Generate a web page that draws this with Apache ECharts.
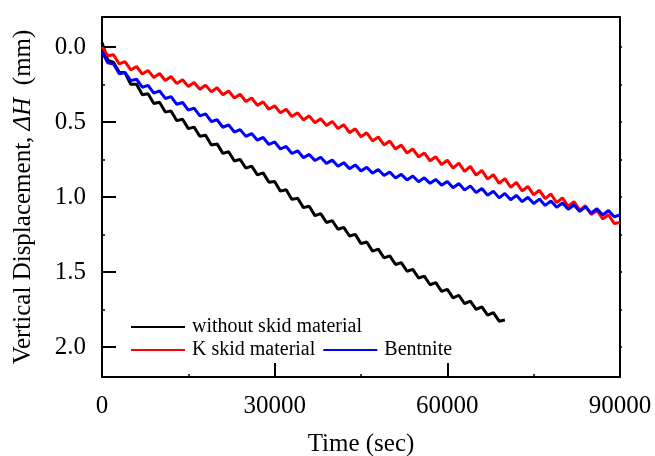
<!DOCTYPE html>
<html>
<head>
<meta charset="utf-8">
<script src="https://cdn.jsdelivr.net/npm/echarts@6/dist/echarts.min.js"></script>
<style>html,body{margin:0;padding:0;background:#fff;}#c{width:655px;height:456px;}</style>
</head>
<body>
<div id="c"></div>
<script>
const timeSec = [0,1000,2000,3000,4000,5000,6000,7000,8000,9000,10000,11000,12000,13000,14000,15000,16000,17000,18000,19000,20000,21000,22000,23000,24000,25000,26000,27000,28000,29000,30000,31000,32000,33000,34000,35000,36000,37000,38000,39000,40000,41000,42000,43000,44000,45000,46000,47000,48000,49000,50000,51000,52000,53000,54000,55000,56000,57000,58000,59000,60000,61000,62000,63000,64000,65000,66000,67000,68000,69000,70000,71000,72000,73000,74000,75000,76000,77000,78000,79000,80000,81000,82000,83000,84000,85000,86000,87000,88000,89000,90000];
const withoutSkid = [-0.03,0.088,0.102,0.168,0.172,0.248,0.248,0.318,0.311,0.376,0.369,0.434,0.426,0.491,0.482,0.544,0.534,0.595,0.588,0.653,0.646,0.709,0.698,0.760,0.749,0.808,0.794,0.852,0.839,0.902,0.897,0.961,0.952,1.016,1.008,1.071,1.062,1.124,1.111,1.170,1.157,1.215,1.202,1.260,1.249,1.311,1.300,1.361,1.348,1.406,1.392,1.450,1.437,1.495,1.482,1.540,1.527,1.585,1.571,1.629,1.616,1.672,1.655,1.711,1.694,1.749,1.732,1.788,1.771,1.828,1.820];
const kSkid = [0.00,0.058,0.052,0.113,0.097,0.153,0.130,0.180,0.156,0.203,0.177,0.223,0.197,0.244,0.218,0.264,0.237,0.282,0.254,0.299,0.272,0.318,0.293,0.340,0.315,0.363,0.340,0.389,0.366,0.415,0.392,0.439,0.415,0.463,0.439,0.486,0.459,0.505,0.478,0.523,0.496,0.544,0.518,0.571,0.545,0.599,0.572,0.626,0.600,0.653,0.627,0.680,0.654,0.707,0.680,0.733,0.706,0.759,0.732,0.784,0.755,0.807,0.774,0.829,0.796,0.854,0.823,0.881,0.851,0.909,0.878,0.935,0.903,0.960,0.929,0.986,0.955,1.011,0.980,1.037,1.006,1.063,1.031,1.088,1.058,1.117,1.088,1.147,1.118,1.177,1.170];
const bentnite = [0.030,0.106,0.114,0.179,0.170,0.224,0.215,0.268,0.256,0.307,0.293,0.343,0.331,0.383,0.370,0.421,0.408,0.459,0.446,0.498,0.485,0.535,0.519,0.567,0.551,0.596,0.577,0.621,0.603,0.650,0.633,0.680,0.663,0.710,0.692,0.738,0.716,0.757,0.735,0.776,0.754,0.795,0.771,0.811,0.786,0.826,0.802,0.841,0.817,0.857,0.833,0.873,0.849,0.887,0.860,0.898,0.872,0.909,0.883,0.921,0.896,0.938,0.910,0.954,0.926,0.971,0.943,0.988,0.961,1.006,0.976,1.018,0.989,1.031,1.002,1.044,1.014,1.056,1.027,1.069,1.040,1.082,1.053,1.096,1.066,1.108,1.078,1.120,1.090,1.132,1.120];
const yMajorTicks = [0, 0.5, 1.0, 1.5, 2.0];
const yMinorTicks = [0.25, 0.75, 1.25, 1.75];
const yAllTicks = [0, 0.25, 0.5, 0.75, 1.0, 1.25, 1.5, 1.75, 2.0];
const seriesNames = ['without skid material', 'K skid material', 'Bentnite'];

const FF = '"Liberation Serif","Times New Roman",serif';
const pairs = arr => arr.map((v, i) => [timeSec[i], v]);
const chart = echarts.init(document.getElementById('c'), null, {renderer: 'canvas'});
const yBase = {type: 'value', min: -0.2, max: 2.2, inverse: true, splitLine: {show: false}};
chart.setOption({
  animation: false,
  backgroundColor: '#fff',
  grid: {left: 102, right: 35, top: 17, bottom: 79, containLabel: false, outerBoundsMode: 'none'},
  legend: [
    {data: [seriesNames[0]], left: 126, top: 312, icon: 'rect', itemWidth: 54, itemHeight: 2,
     textStyle: {fontFamily: FF, fontSize: 20, color: '#000', padding: [0, 0, 0, 2]}},
    {data: [seriesNames[1], seriesNames[2]], left: 126, top: 335, icon: 'rect', itemWidth: 54, itemHeight: 2, itemGap: 8,
     textStyle: {fontFamily: FF, fontSize: 20, color: '#000', padding: [0, 0, 0, 2]}}
  ],
  xAxis: [
    {type: 'value', min: 0, max: 90000, interval: 30000, position: 'bottom',
     name: 'Time (sec)', nameLocation: 'middle', nameGap: 55,
     nameTextStyle: {fontFamily: FF, fontSize: 25, color: '#000'},
     axisLine: {show: true, onZero: false, lineStyle: {color: '#000', width: 2}},
     axisTick: {show: true, inside: true, length: 14, lineStyle: {color: '#000', width: 2}},
     minorTick: {show: true, splitNumber: 2, length: 3, lineStyle: {color: '#000', width: 1.5}},
     axisLabel: {fontFamily: FF, fontSize: 25, color: '#000', margin: 17, formatter: v => String(v)},
     splitLine: {show: false}},
    {type: 'value', min: 0, max: 90000, position: 'top',
     axisLine: {show: true, onZero: false, lineStyle: {color: '#000', width: 2}},
     axisTick: {show: false}, axisLabel: {show: false}, splitLine: {show: false}}
  ],
  yAxis: [
    Object.assign({}, yBase, {position: 'left',
     name: '{n|Vertical Displacement, }{i|ΔH}{n|  (mm)}', nameLocation: 'middle', nameGap: 66,
     nameTextStyle: {fontFamily: FF, fontSize: 25, color: '#000',
       rich: {n: {fontFamily: FF, fontSize: 25, color: '#000'}, i: {fontFamily: FF, fontSize: 25, color: '#000', fontStyle: 'italic'}}},
     axisLine: {show: true, onZero: false, lineStyle: {color: '#000', width: 2}},
     axisTick: {show: true, inside: true, length: 14, customValues: yMajorTicks, lineStyle: {color: '#000', width: 2}},
     axisLabel: {fontFamily: FF, fontSize: 25, color: '#000', margin: 16, customValues: yMajorTicks,
       formatter: v => v.toFixed(1)}}),
    Object.assign({}, yBase, {position: 'left',
     axisLine: {show: false},
     axisTick: {show: true, inside: true, length: 3, customValues: yMinorTicks, lineStyle: {color: '#000', width: 1.5}},
     axisLabel: {show: false}}),
    Object.assign({}, yBase, {position: 'right',
     axisLine: {show: true, onZero: false, lineStyle: {color: '#000', width: 2}},
     axisTick: {show: true, inside: false, length: 2, customValues: yAllTicks, lineStyle: {color: '#000', width: 1.5}},
     axisLabel: {show: false}})
  ],
  series: [
    {name: seriesNames[0], type: 'line', data: pairs(withoutSkid), showSymbol: false, symbol: 'none',
     lineStyle: {color: '#000000', width: 3}, itemStyle: {color: '#000000'}},
    {name: seriesNames[1], type: 'line', data: pairs(kSkid), showSymbol: false, symbol: 'none',
     lineStyle: {color: '#ff0000', width: 3}, itemStyle: {color: '#ff0000'}},
    {name: seriesNames[2], type: 'line', data: pairs(bentnite), showSymbol: false, symbol: 'none',
     lineStyle: {color: '#0000ff', width: 3}, itemStyle: {color: '#0000ff'}}
  ]
});
</script>
</body>
</html>
